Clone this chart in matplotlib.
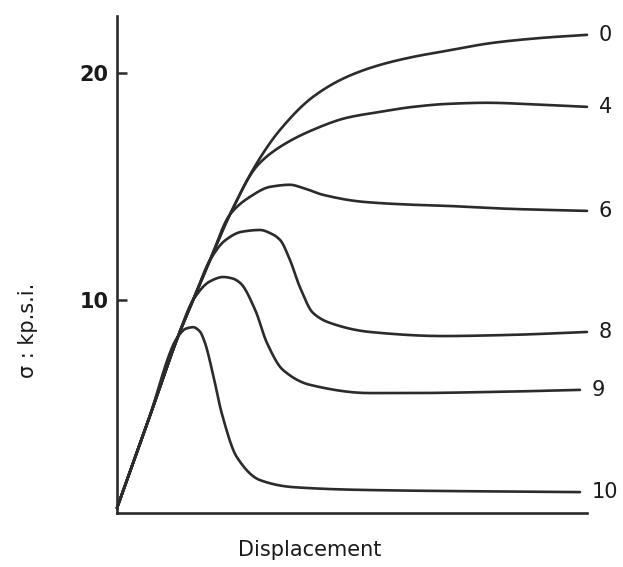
import numpy as np
import matplotlib
matplotlib.use("Agg")
import matplotlib.pyplot as plt

# ---- data ----
rise_x = [0.00, 0.65, 1.30]
rise_y = [0.84, 4.60, 8.40]

c0_x = [1.62, 1.98, 2.40, 2.98, 3.47, 4.17, 4.89, 5.60, 6.30, 7.02, 8.00, 9.06, 10.0]
c0_y = [10.00, 11.76, 13.75, 16.04, 17.49, 18.94, 19.82, 20.35, 20.70, 20.97, 21.32, 21.54, 21.67]

c4_x = [1.62, 1.98, 2.40, 2.98, 3.47, 4.17, 4.89, 5.60, 6.30, 7.02, 7.87, 9.06, 10.0]
c4_y = [10.00, 11.76, 13.75, 15.90, 16.74, 17.49, 18.02, 18.28, 18.50, 18.63, 18.68, 18.59, 18.50]

c6_x = [1.62, 1.98, 2.40, 2.83, 3.26, 3.68, 3.96, 4.38, 5.23, 6.30, 7.02, 8.36, 10.0]
c6_y = [10.00, 11.76, 13.75, 14.54, 14.98, 15.07, 14.93, 14.63, 14.32, 14.19, 14.14, 14.01, 13.92]

c8_x = [1.62, 1.98, 2.30, 2.65, 3.04, 3.30, 3.47, 3.68, 3.89, 4.17, 4.53, 5.38, 6.94, 8.36, 10.0]
c8_y = [10.00, 11.76, 12.62, 13.00, 13.08, 12.90, 12.64, 11.76, 10.57, 9.43, 8.99, 8.59, 8.41, 8.46, 8.59]

c9_x = [1.62, 1.98, 2.26, 2.45, 2.62, 2.94, 3.19, 3.53, 4.11, 5.38, 6.23, 8.00, 9.85]
c9_y = [10.00, 10.82, 11.01, 10.95, 10.75, 9.56, 8.11, 6.92, 6.26, 5.90, 5.90, 5.95, 6.04]

c10_x = [1.47, 1.62, 1.76, 1.87, 2.04, 2.23, 2.55, 3.04, 3.74, 5.38, 9.85]
c10_y = [8.74, 8.80, 8.62, 8.12, 6.75, 5.00, 3.08, 2.07, 1.76, 1.63, 1.54]

curve_labels = ["0", "4", "6", "8", "9", "10"]
yticks = [10, 20]
ytick_labels = ["10", "20"]


def pchip_render(xs, ys, n=20):
    """Monotone cubic (Fritsch-Carlson) rendering through the given points."""
    x = np.asarray(xs, float); y = np.asarray(ys, float)
    h = np.diff(x); dl = np.diff(y) / h
    d = np.zeros_like(x)
    for k in range(1, len(x) - 1):
        if dl[k - 1] * dl[k] > 0:
            w1 = 2 * h[k] + h[k - 1]; w2 = h[k] + 2 * h[k - 1]
            d[k] = (w1 + w2) / (w1 / dl[k - 1] + w2 / dl[k])
    d[0] = dl[0]; d[-1] = dl[-1]
    ox, oy = [], []
    t = np.linspace(0, 1, n, endpoint=False)
    for k in range(len(x) - 1):
        h00 = 2 * t**3 - 3 * t**2 + 1; h10 = t**3 - 2 * t**2 + t
        h01 = -2 * t**3 + 3 * t**2; h11 = t**3 - t**2
        ox.extend(x[k] + t * h[k])
        oy.extend(h00 * y[k] + h10 * h[k] * d[k] + h01 * y[k + 1] + h11 * h[k] * d[k + 1])
    ox.append(x[-1]); oy.append(y[-1])
    return np.array(ox), np.array(oy)


fig = plt.figure(figsize=(6.23, 5.67), dpi=100)
W, H = 623, 567
ax = fig.add_axes([117 / W, 1 - 513 / H, (587 - 117) / W, (513 - 16) / H])
ax.set_xlim(0, 10.0)
ax.set_ylim(0.62, 22.5)

col = "#2b2b2b"
lw = 1.9
series = [(c0_x, c0_y), (c4_x, c4_y), (c6_x, c6_y), (c8_x, c8_y), (c9_x, c9_y), (c10_x, c10_y)]
for (sx, sy), lab in zip(series, curve_labels):
    xs, ys = pchip_render(rise_x + sx, rise_y + sy)
    ax.plot(xs, ys, color=col, lw=lw, solid_capstyle="round", clip_on=False)
    ax.text(sx[-1] + 0.25, sy[-1], lab, fontsize=15, color="#1a1a1a",
            va="center", ha="left", family="DejaVu Sans")

for s in ["top", "right"]:
    ax.spines[s].set_visible(False)
for s in ["left", "bottom"]:
    ax.spines[s].set_linewidth(1.9)
    ax.spines[s].set_color(col)

ax.set_xticks([])
ax.set_yticks(yticks)
ax.set_yticklabels(ytick_labels, fontsize=15, fontweight="bold", color="#1a1a1a")
ax.tick_params(axis="y", direction="in", length=7, width=1.8, color=col, pad=6)

fig.text(310 / W, 1 - 550 / H, "Displacement", fontsize=15, ha="center", va="center",
         color="#1a1a1a")
fig.text(28 / W, 1 - 330 / H, "σ : kp.s.i.", fontsize=15, rotation=90,
         ha="center", va="center", color="#1a1a1a")

fig.savefig("out.png", dpi=100, facecolor="white")
